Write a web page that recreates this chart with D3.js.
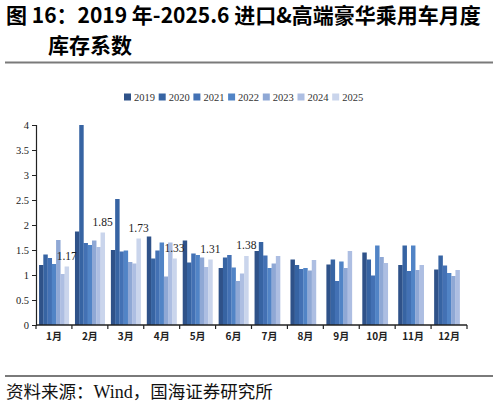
<!DOCTYPE html>
<html>
<head>
<meta charset="utf-8">
<script src="https://cdn.jsdelivr.net/npm/d3@7"></script>
<style>
  body { margin: 0; background: #fff; }
  svg { display: block; }
</style>
</head>
<body>
<svg id="chart"></svg>
<script>
// data
const months = ["1月", "2月", "3月", "4月", "5月", "6月", "7月", "8月", "9月", "10月", "11月", "12月"];
const years = ["2019", "2020", "2021", "2022", "2023", "2024", "2025"];
const v2019 = [1.20, 1.87, 1.50, 1.77, 1.69, 1.14, 1.48, 1.31, 1.21, 1.45, 1.20, 1.11];
const v2020 = [1.41, 4.00, 2.52, 1.33, 1.25, 1.35, 1.66, 1.20, 1.31, 1.31, 1.59, 1.39];
const v2021 = [1.34, 1.64, 1.47, 1.49, 1.43, 1.40, 1.39, 1.12, 0.88, 0.99, 1.08, 1.19];
const v2022 = [1.22, 1.60, 1.49, 1.65, 1.40, 1.15, 1.14, 1.14, 1.27, 1.59, 1.59, 1.04];
const v2023 = [1.70, 1.69, 1.26, 0.97, 1.35, 0.88, 1.23, 1.09, 1.14, 1.36, 1.10, 0.98];
const v2024 = [1.02, 1.56, 1.23, 1.65, 1.16, 1.03, 1.38, 1.30, 1.48, 1.24, 1.20, 1.10];
const v2025 = [1.17, 1.85, 1.73, 1.33, 1.31, 1.38];
const yTicks = [0, 0.5, 1, 1.5, 2, 2.5, 3, 3.5, 4];
const colors = ["#2f5289", "#3764a3", "#4371b4", "#5184c6", "#8fa8d5", "#adbee2", "#cad5ec"];

const series = [v2019, v2020, v2021, v2022, v2023, v2024, v2025];

const width = 498, height = 406;
const serif = "'Liberation Serif', 'DejaVu Serif', serif";
const svg = d3.select("#chart").attr("width", width).attr("height", height);

// title
const title = svg.append("g")
  .attr("font-family", "'Noto Sans CJK SC', sans-serif")
  .attr("font-weight", "bold")
  .attr("font-size", 21)
  .attr("fill", "#000");
title.append("text").attr("x", 6).attr("y", 23)
  .text("图 16：2019 年-2025.6 进口&高端豪华乘用车月度");
title.append("text").attr("x", 48).attr("y", 53).text("库存系数");

svg.append("line").attr("x1", 5).attr("x2", 493).attr("y1", 62.5).attr("y2", 62.5)
  .attr("stroke", "#7a7a7a").attr("stroke-width", 1.8);

// scales
const x0 = d3.scaleBand().domain(months).range([36, 467]).paddingInner(0.17).paddingOuter(0.085);
const x1 = d3.scaleBand().domain(years).range([0, x0.bandwidth()]);
const y = d3.scaleLinear().domain([0, 4]).range([325, 125]);
const color = d3.scaleOrdinal().domain(years).range(colors);

// legend
const legend = svg.append("g")
  .attr("font-family", serif)
  .attr("font-size", 10.5).attr("fill", "#333");
years.forEach((yr, i) => {
  const lx = 124 + i * 34.7;
  legend.append("rect").attr("x", lx).attr("y", 93.5).attr("width", 7).attr("height", 7)
    .attr("fill", color(yr));
  legend.append("text").attr("x", lx + 10).attr("y", 100.5).text(yr);
});

// bars
const g = svg.append("g");
months.forEach((m, mi) => {
  years.forEach((yr, si) => {
    const v = series[si][mi];
    if (v === undefined) return;
    g.append("rect")
      .attr("x", x0(m) + x1(yr))
      .attr("y", y(v))
      .attr("width", x1.bandwidth() + 0.2)
      .attr("height", y(0) - y(v))
      .attr("fill", color(yr));
  });
});

// 2025 value labels
g.selectAll("text.lab")
  .data(v2025)
  .enter()
  .append("text")
  .attr("class", "lab")
  .attr("x", (d, i) => x0(months[i]) + x1("2025") + x1.bandwidth() / 2)
  .attr("y", d => y(d) - 7)
  .attr("text-anchor", "middle")
  .attr("font-family", serif)
  .attr("font-size", 11.5)
  .attr("fill", "#222")
  .text(d => d.toFixed(2));

// y axis
const yAxis = svg.append("g").attr("transform", "translate(36,0)")
  .call(d3.axisLeft(y).tickValues(yTicks).tickSize(4).tickPadding(3).tickFormat(d3.format("")));
yAxis.select(".domain").attr("stroke", "#222").attr("stroke-width", 1.2);
yAxis.selectAll(".tick line").attr("stroke", "#222");
yAxis.selectAll("text").attr("font-family", serif)
  .attr("font-size", 10.5).attr("fill", "#222");

// x axis: labels centered, ticks on category boundaries
const xAxis = svg.append("g").attr("transform", "translate(0,325)")
  .call(d3.axisBottom(x0).tickSize(0).tickPadding(8));
xAxis.select(".domain").remove();
xAxis.selectAll("text").attr("font-family", "'Noto Sans CJK SC', sans-serif")
  .attr("font-weight", "bold").attr("font-size", 10).attr("fill", "#222");
svg.append("line").attr("x1", 36).attr("x2", 467).attr("y1", 325).attr("y2", 325)
  .attr("stroke", "#222").attr("stroke-width", 1.4);
const bounds = months.map(m => x0(m) - x0.step() * x0.paddingInner() / 2)
  .concat([x0(months[months.length - 1]) + x0.bandwidth() + x0.step() * x0.paddingInner() / 2]);
svg.selectAll("line.btick").data(bounds).enter().append("line")
  .attr("class", "btick")
  .attr("x1", d => d).attr("x2", d => d).attr("y1", 325).attr("y2", 329)
  .attr("stroke", "#222").attr("stroke-width", 1.2);

// source
svg.append("line").attr("x1", 5).attr("x2", 493).attr("y1", 376).attr("y2", 376)
  .attr("stroke", "#7a7a7a").attr("stroke-width", 1.8);
const src = svg.append("text").attr("x", 6).attr("y", 398)
  .attr("font-family", "'Noto Sans CJK SC', sans-serif").attr("font-size", 17.5).attr("fill", "#111");
src.append("tspan").text("资料来源：");
src.append("tspan").attr("font-family", serif).attr("font-size", 18).text("Wind");
src.append("tspan").text("，国海证券研究所");
</script>
</body>
</html>
